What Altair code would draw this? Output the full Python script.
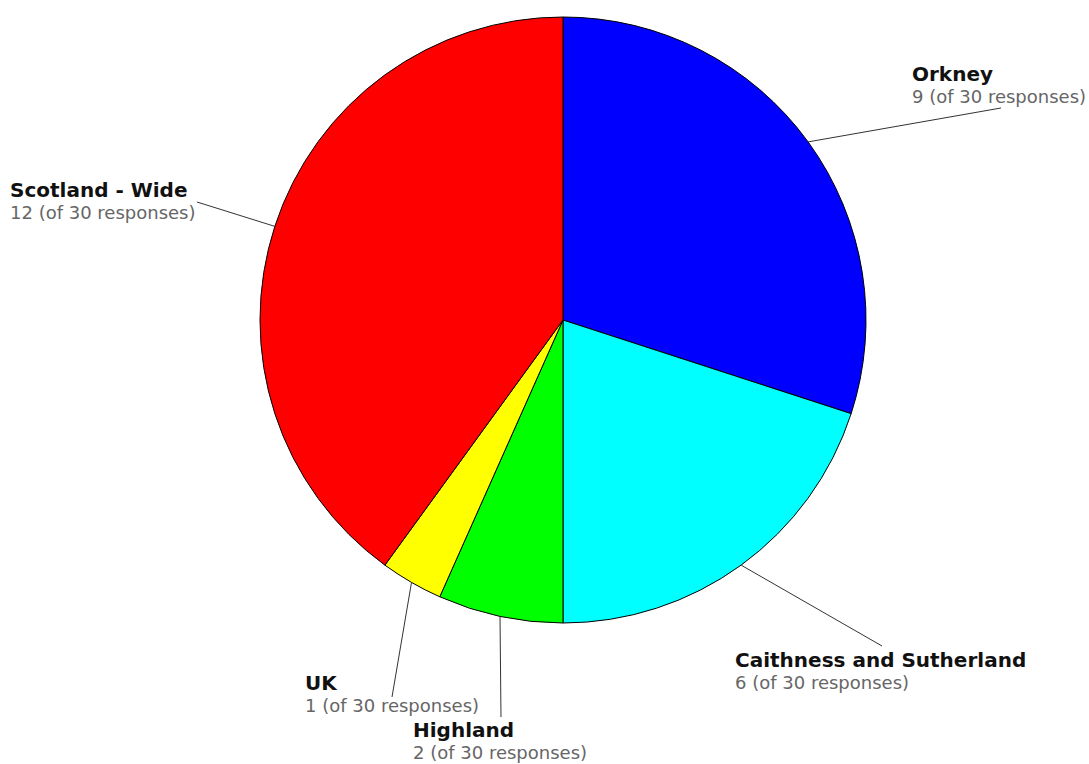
import math
import altair as alt
import pandas as pd

# ---- data ----
regions = ["Orkney", "Caithness and Sutherland", "Highland", "UK", "Scotland - Wide"]
responses = [9, 6, 2, 1, 12]
total_responses = 30
colors = ["#0000FF", "#00FFFF", "#00FF00", "#FFFF00", "#FF0000"]

# ---- layout (pixels) ----
W, H = 1089, 764
CX, CY, R = 563, 320, 303
label_layout = {
    "Orkney": dict(lx=912, ly=81, ex=1001, ey=108),
    "Caithness and Sutherland": dict(lx=735, ly=667, ex=882, ey=646),
    "Highland": dict(lx=413, ly=737, ex=501, ey=717),
    "UK": dict(lx=305, ly=690, ex=392, ey=697),
    "Scotland - Wide": dict(lx=10, ly=197, ex=197, ey=202),
}

pie = pd.DataFrame({
    "region": regions,
    "count": responses,
    "idx": list(range(len(regions))),
})

rows = []
cum = 0
for reg, n in zip(regions, responses):
    mid = (cum + n / 2) / total_responses * 2 * math.pi
    cum += n
    lay = label_layout[reg]
    rows.append({
        "region": reg,
        "sub": f"{n} (of {total_responses} responses)",
        "sx": CX + R * math.sin(mid),
        "sy": CY - R * math.cos(mid),
        "ex": lay["ex"], "ey": lay["ey"],
        "lx": lay["lx"], "ly": lay["ly"], "ly2": lay["ly"] + 22,
    })
labels = pd.DataFrame(rows)

xs = alt.Scale(domain=[0, W], range=[0, W])
ys = alt.Scale(domain=[0, H], range=[0, H])

arcs = alt.Chart(pie).mark_arc(
    outerRadius=R, stroke="#000000", strokeWidth=1
).encode(
    theta=alt.Theta("count:Q", stack=True),
    order=alt.Order("idx:Q"),
    color=alt.Color("region:N", scale=alt.Scale(domain=regions, range=colors), legend=None),
    x=alt.value(CX),
    y=alt.value(CY),
)

lines = alt.Chart(labels).mark_rule(color="#333333", strokeWidth=1).encode(
    x=alt.X("sx:Q", scale=xs, axis=None),
    y=alt.Y("sy:Q", scale=ys, axis=None),
    x2="ex:Q",
    y2="ey:Q",
)

names = alt.Chart(labels).mark_text(
    align="left", baseline="alphabetic", font="DejaVu Sans", fontSize=20,
    fontWeight="bold", color="#111111"
).encode(
    x=alt.X("lx:Q", scale=xs, axis=None),
    y=alt.Y("ly:Q", scale=ys, axis=None),
    text="region:N",
)

subs = alt.Chart(labels).mark_text(
    align="left", baseline="alphabetic", font="DejaVu Sans", fontSize=18,
    color="#666666"
).encode(
    x=alt.X("lx:Q", scale=xs, axis=None),
    y=alt.Y("ly2:Q", scale=ys, axis=None),
    text="sub:N",
)

chart = alt.layer(arcs, lines, names, subs).properties(
    width=W, height=H, padding=0, autosize=alt.AutoSizeParams(type="none"),
    background="#FFFFFF",
).configure_view(stroke=None)

chart.save("out.html", embed_options={"renderer": "svg", "actions": False})
